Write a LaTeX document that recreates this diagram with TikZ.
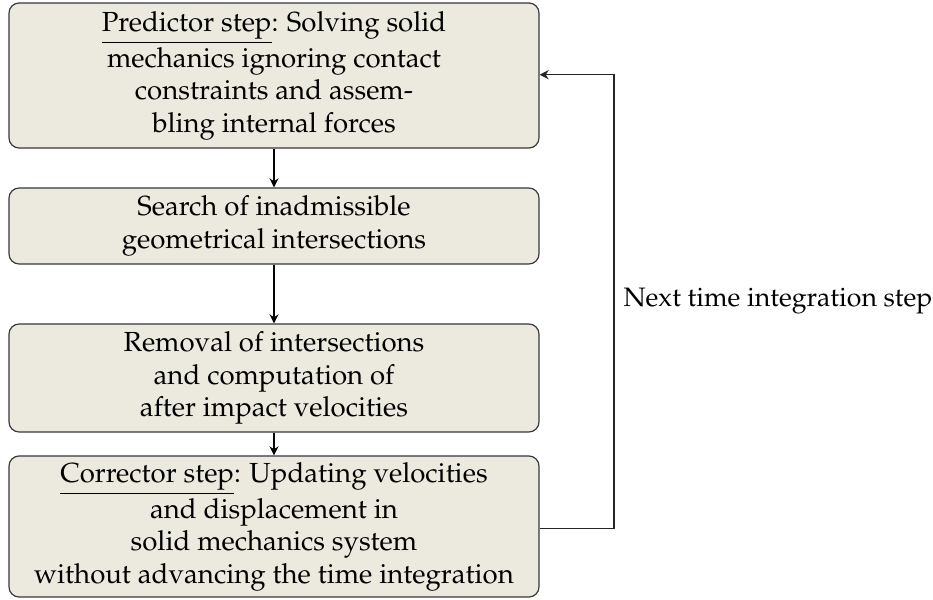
\documentclass[tikz,border=0pt]{standalone}
\usepackage[T1]{fontenc}
\usepackage{mathpazo}
\usetikzlibrary{arrows.meta}
\definecolor{boxfill}{RGB}{236,233,223}
\definecolor{boxline}{RGB}{55,55,60}
\begin{document}
\begin{tikzpicture}[x=0.375pt,y=-0.375pt,
  flowbox/.style={draw=boxline,fill=boxfill,rounded corners=3.8pt,line width=0.45pt,
    minimum width=198.75pt,align=center,inner sep=0pt,font=\fontsize{10.35}{12.2}\selectfont,
    execute at begin node={\rule{0pt}{9.6pt}}},
  tipstyle/.style={-{Stealth[length=3.4pt,width=3.4pt,inset=1.1pt]}},
  flowarrow/.style={tipstyle,line width=0.6pt,black},
  backline/.style={tipstyle,line width=0.5pt,draw=black!85}]
\useasboundingbox (0,0) rectangle (933,600);
\node[flowbox,minimum height=54.4pt] (p) at (274,75.5)
  {\underline{Predictor step}: Solving solid\\mechanics ignoring contact\\constraints and assem-\\bling internal forces};
\node[flowbox,minimum height=28.5pt] (s) at (274,226)
  {Search of inadmissible\\geometrical intersections};
\node[flowbox,minimum height=40.5pt] (r) at (274,378)
  {Removal of intersections\\and computation of\\after impact velocities};
\node[flowbox,minimum height=52.9pt] (c) at (274,526.5)
  {\underline{Corrector step}: Updating velocities\\and displacement in\\solid mechanics system\\without advancing the time integration};
\draw[flowarrow] (p) -- (s);
\draw[flowarrow] (s) -- (r);
\draw[flowarrow] (r) -- (c);
\coordinate (cb) at (614,528.3);
\coordinate (ct) at (614,74.7);
\draw[backline] (c.east |- cb) -- (cb) -- node[right=0pt,font=\fontsize{10}{12}\selectfont,text=black] (lbl) {Next time integration step} (ct) -- (p.east |- ct);
\end{tikzpicture}
\end{document}
